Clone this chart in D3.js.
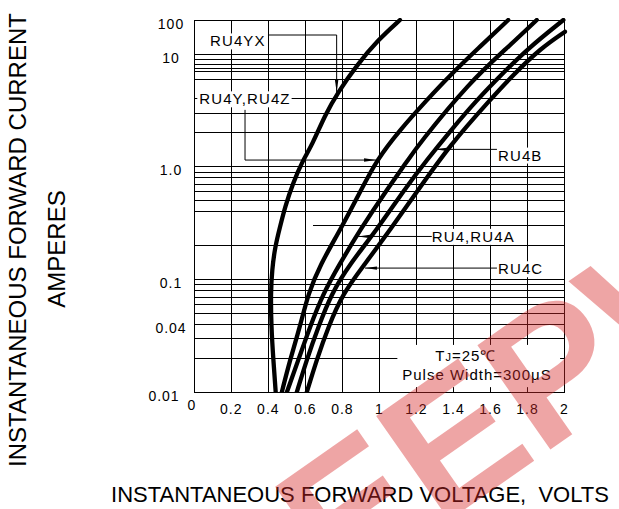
<!DOCTYPE html>
<html><head><meta charset="utf-8">
<script src="https://cdn.jsdelivr.net/npm/d3@7/dist/d3.min.js"></script>
<style>body{margin:0;background:#fff}svg{display:block}text{font-family:"Liberation Sans",Arial,sans-serif}</style>
</head><body><svg id="c" width="619" height="509"></svg>
<script>
// ---- data ----
const xTickValues = [0,0.2,0.4,0.6,0.8,1,1.2,1.4,1.6,1.8,2];
const xTickLabels = ["0","0.2","0.4","0.6","0.8","1","1.2","1.4","1.6","1.8","2"];
const yTickValues = [0.01,0.04,0.1,1,10,100];
const yTickLabels = ["0.01","0.04","0.1","1.0","10","100"];
const yGridValues = [0.02,0.03,0.04,0.05,0.06,0.07,0.08,0.09,0.1,
                     0.2,0.4,0.5,0.6,0.7,0.8,0.9,1,
                     2,3,4,6,7,7.5,8,9,10];
const yGridPartialValue = 0.3, yGridPartialFrom = 0.64;

const ru4yxV = [0.44,0.427,0.416,0.413,0.420,0.436,0.463,0.490,0.533,0.587,0.636,0.706,0.777,0.879,0.992,1.111];
const ru4yxI = [0.01,0.0195,0.038,0.076,0.122,0.195,0.294,0.441,0.72,1.15,1.56,2.88,4.61,7.99,25.8,100];
const ru4yzV = [0.472,0.517,0.571,0.616,0.679,0.788,0.901,0.985,1.110,1.256,1.383,1.534,1.696];
const ru4yzI = [0.01,0.0195,0.0384,0.0759,0.135,0.276,0.624,1.15,2.12,3.91,6.52,14.7,100];
const ru4aV  = [0.499,0.562,0.625,0.697,0.782,0.895,1.039,1.155,1.209,1.490,1.688,1.850];
const ru4aI  = [0.01,0.0195,0.0384,0.0759,0.135,0.276,0.624,1.15,1.56,5.69,14.7,100];
const ru4bV  = [0.553,0.607,0.670,0.742,0.836,0.985,1.133,1.256,1.387,1.526,1.657,1.803,1.994];
const ru4bI  = [0.01,0.0195,0.0384,0.0759,0.135,0.276,0.624,1.15,2.12,3.91,6.52,14.7,100];
const ru4cV  = [0.607,0.661,0.724,0.803,0.917,1.057,1.209,1.381,1.597,1.722,1.871,2.003];
const ru4cI  = [0.01,0.0195,0.0384,0.0759,0.135,0.276,0.624,1.56,3.91,6.52,14.7,45.3];

const labelNames = ["RU4YX","RU4Y,RU4Z","RU4B","RU4,RU4A","RU4C"];
const labelV = [0.085,0.027,1.641,1.283,1.641];
const labelI = [24.1,4.0,1.27,0.242,0.125];
const leaderPaths = [
  [[0.398,36.2],[0.769,36.2],[0.769,4.6]],
  [[0.274,3.2],[0.274,1.15],[0.982,1.15]],
  [[1.635,1.43],[1.300,1.43]],
  [[1.283,0.242],[0.884,0.242]],
  [[1.635,0.127],[0.922,0.127]]
];
const noteLines = ["TJ=25℃","Pulse Width=300μS"];
const noteV = [1.467,1.527];
const noteI = [0.0192,0.0130];
const noteBoxV = [1.097,1.976], noteBoxI = [0.0112,0.0265];
const xTitle = "INSTANTANEOUS FORWARD VOLTAGE,  VOLTS";
const yTitle1 = "INSTANTANEOUS FORWARD CURRENT";
const yTitle2 = "AMPERES";
const watermark = "EEPW";

// ---- drawing ----
const svg = d3.select("#c");
const x = d3.scaleLinear().domain([0,2]).range([194.3,564.5]);
const y = d3.scaleLog().domain([0.01,10,100]).range([392.7,54,20]);
const X0=x(0),X1=x(2),Y0=y(0.01),Y1=y(100);

const defs = svg.append("defs");
defs.append("clipPath").attr("id","clip").append("rect")
  .attr("x",X0).attr("y",Y1-2).attr("width",X1-X0+3).attr("height",Y0-Y1+2);
defs.append("marker").attr("id","arr").attr("viewBox","0 0 12 4")
  .attr("refX",12).attr("refY",2).attr("markerWidth",12).attr("markerHeight",4)
  .attr("markerUnits","userSpaceOnUse").attr("orient","auto")
  .append("path").attr("d","M0,0.3L12,2L0,3.7Z").attr("fill","#000");

const grid = svg.append("g").attr("stroke","#000").attr("stroke-width",1).attr("shape-rendering","crispEdges");
grid.selectAll("line.v").data(xTickValues).join("line")
  .attr("x1",d=>x(d)).attr("x2",d=>x(d)).attr("y1",Y1).attr("y2",Y0);
grid.selectAll("line.h").data(yGridValues).join("line")
  .attr("x1",X0).attr("x2",X1).attr("y1",d=>y(d)).attr("y2",d=>y(d));
grid.append("line").attr("x1",x(yGridPartialFrom)).attr("x2",X1)
  .attr("y1",y(yGridPartialValue)).attr("y2",y(yGridPartialValue));
grid.append("rect").attr("x",X0).attr("y",Y1).attr("width",X1-X0).attr("height",Y0-Y1).attr("fill","none");

// note box
svg.append("rect").attr("x",x(noteBoxV[0])).attr("y",y(noteBoxI[1]))
  .attr("width",x(noteBoxV[1])-x(noteBoxV[0])).attr("height",y(noteBoxI[0])-y(noteBoxI[1])).attr("fill","#fff");

// curves
const series = [[ru4yxV,ru4yxI],[ru4yzV,ru4yzI],[ru4aV,ru4aI],[ru4bV,ru4bI],[ru4cV,ru4cI]];
const line = d3.line().x(d=>x(d[0])).y(d=>y(d[1])).curve(d3.curveBasis);
svg.append("g").attr("clip-path","url(#clip)").selectAll("path").data(series).join("path")
  .attr("d",s=>line(s[0].map((v,i)=>[v,s[1][i]])))
  .attr("fill","none").attr("stroke","#000").attr("stroke-width",4.3).attr("stroke-linecap","round").attr("stroke-linejoin","round");

// labels
const lg = svg.append("g");
labelNames.forEach((name,i)=>{
  const t = lg.append("text").attr("x",x(labelV[i])).attr("y",y(labelI[i])).attr("dy","0.36em")
    .attr("font-size",15).attr("letter-spacing",1.1).attr("fill","#000").text(name);
  const b = t.node().getBBox();
  lg.insert("rect","text").attr("x",b.x-2).attr("y",b.y+1).attr("width",b.width+3).attr("height",b.height-1).attr("fill","#fff");
});
svg.append("g").selectAll("path").data(leaderPaths).join("path")
  .attr("d",p=>d3.line().x(d=>x(d[0])).y(d=>y(d[1]))(p))
  .attr("fill","none").attr("stroke","#000").attr("stroke-width",1).attr("marker-end","url(#arr)");

// note text
const n0 = svg.append("text").attr("x",x(noteV[0])).attr("y",y(noteI[0])).attr("text-anchor","middle")
  .attr("font-size",15).attr("letter-spacing",1);
n0.append("tspan").text(noteLines[0].slice(0,1));
n0.append("tspan").attr("font-size",11).text(noteLines[0].slice(1,2));
n0.append("tspan").text(noteLines[0].slice(2));
svg.append("text").attr("x",x(noteV[1])).attr("y",y(noteI[1])).attr("text-anchor","middle")
  .attr("font-size",15).attr("letter-spacing",1).text(noteLines[1]);

// tick labels
svg.append("g").selectAll("text").data(xTickValues).join("text")
  .attr("x",(d,i)=>x(d)-(i===0?2.5:0)).attr("y",(d,i)=>i===0?409.5:413.5)
  .attr("text-anchor","middle").attr("font-size",14).attr("letter-spacing",1)
  .text((d,i)=>xTickLabels[i]);
svg.append("g").selectAll("text").data(yTickValues).join("text")
  .attr("x",(d,i)=>i===0?164:171).attr("y",d=>y(d)+8.5)
  .attr("text-anchor","middle").attr("font-size",14).attr("letter-spacing",1)
  .text((d,i)=>yTickLabels[i]);

// titles
svg.append("text").attr("x",360).attr("y",501.5).attr("text-anchor","middle").attr("font-size",22)
  .style("white-space","pre").text(xTitle);
svg.append("text").attr("transform","translate(26,240) rotate(-90)").attr("text-anchor","middle").attr("font-size",24).text(yTitle1);
svg.append("text").attr("transform","translate(65,249) rotate(-90)").attr("text-anchor","middle").attr("font-size",24).text(yTitle2);

// watermark
svg.append("text").attr("transform","translate(338,598) rotate(-35)")
  .attr("font-size",185).attr("font-weight","bold").attr("fill","rgb(215,40,40)").attr("fill-opacity",0.42)
  .text(watermark);
</script></body></html>
